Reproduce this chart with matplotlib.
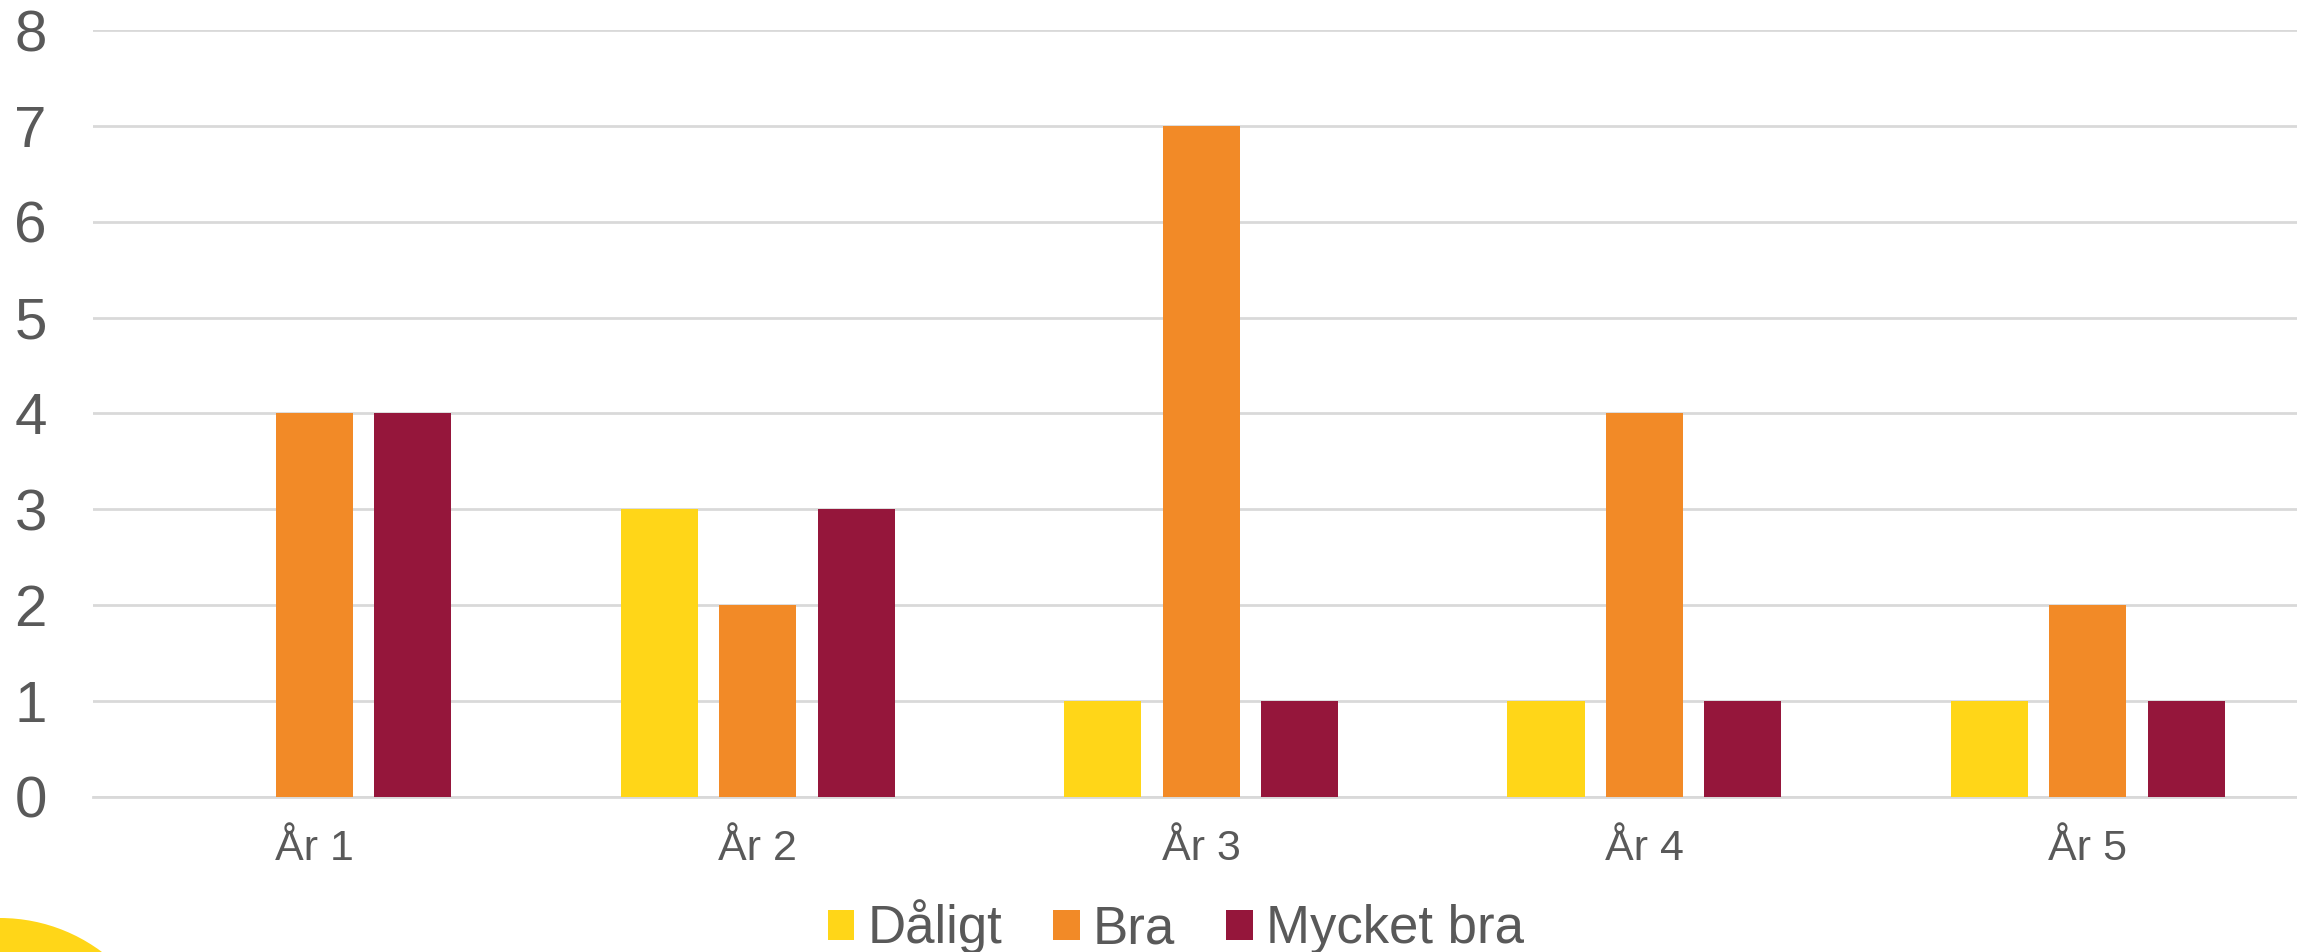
import matplotlib
matplotlib.use("Agg")
import matplotlib.pyplot as plt
import numpy as np
from matplotlib.patches import Circle
from matplotlib.transforms import IdentityTransform

categories = ["År 1", "År 2", "År 3", "År 4", "År 5"]
series_names = ["Dåligt", "Bra", "Mycket bra"]
daligt = [0, 3, 1, 1, 1]
bra = [4, 2, 7, 4, 2]
mycket_bra = [4, 3, 1, 1, 1]
colors = ["#FFD618", "#F28A27", "#95163B"]
text_color = "#595959"
grid_color = "#D9D9D9"

plt.rcParams["font.family"] = ["Liberation Sans", "DejaVu Sans"]

W, H, DPI = 2297, 952, 100
fig = plt.figure(figsize=(W / DPI, H / DPI), dpi=DPI)

# axes position in pixels
left_px, right_px = 92.7, 92.7 + 5 * 443.35
bottom_px, top_px = 796.7, 30.3
ax = fig.add_axes([left_px / W, (H - bottom_px) / H,
                   (right_px - left_px) / W, (bottom_px - top_px) / H])

x = np.arange(len(categories))
width = 0.174
offset = 0.222
for i, (vals, name, c) in enumerate(zip([daligt, bra, mycket_bra], series_names, colors)):
    ax.bar(x + (i - 1) * offset, vals, width=width, color=c, label=name, zorder=3)

ax.set_xlim(-0.5, len(categories) - 0.5)
ax.set_ylim(0, 8)
ax.set_yticks(range(0, 9))
ax.set_xticks(x)
ax.set_xticklabels(categories)
ax.yaxis.grid(True, color=grid_color, linewidth=2, zorder=0)
ax.set_axisbelow(True)
for s in ["top", "right", "left"]:
    ax.spines[s].set_visible(False)
ax.spines["bottom"].set_color(grid_color)
ax.spines["bottom"].set_linewidth(2)
ax.tick_params(axis="y", length=0, pad=33, labelsize=42, labelcolor=text_color)
ax.tick_params(axis="x", length=0, pad=23, labelsize=31, labelcolor=text_color)

leg = fig.legend(loc="center", bbox_to_anchor=(1176 / W, (H - 927) / H),
                 ncol=3, frameon=False, fontsize=38, handlelength=0.5,
                 handleheight=0.5, handletextpad=0.25, columnspacing=0.97,
                 borderpad=0, borderaxespad=0)
for t in leg.get_texts():
    t.set_color(text_color)

circ = Circle((0, H - 1088), 170, transform=IdentityTransform(),
              facecolor="#FFD618", edgecolor="none")
fig.patches.append(circ)

fig.savefig("out.png", dpi=DPI)
